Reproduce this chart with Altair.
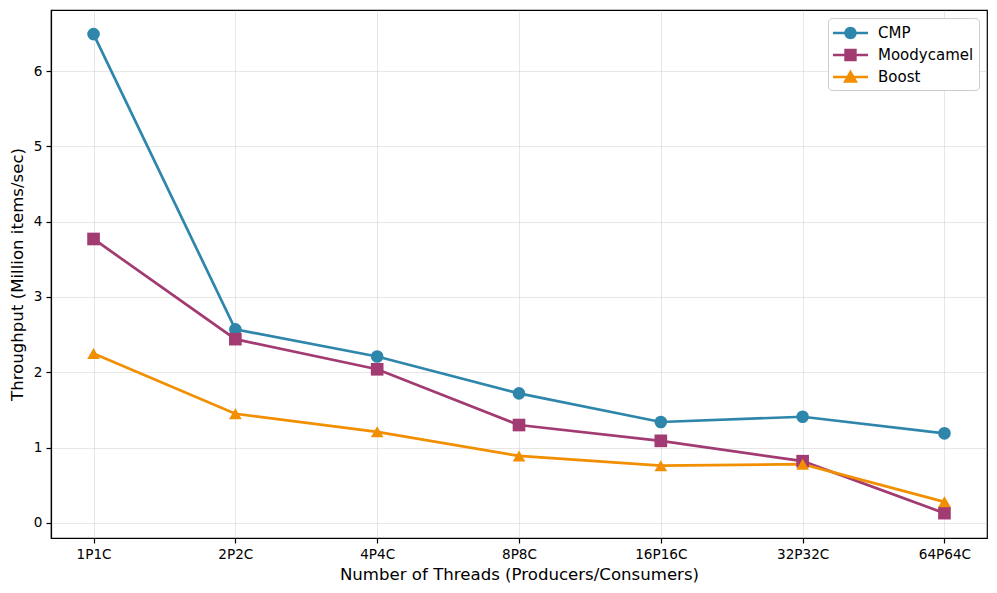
import altair as alt
import pandas as pd

threads = ["1P1C", "2P2C", "4P4C", "8P8C", "16P16C", "32P32C", "64P64C"]
cmp_vals = [6.49, 2.57, 2.21, 1.72, 1.34, 1.41, 1.19]
moody_vals = [3.77, 2.44, 2.04, 1.30, 1.09, 0.82, 0.13]
boost_vals = [2.25, 1.45, 1.21, 0.89, 0.76, 0.78, 0.28]
series_names = ["CMP", "Moodycamel", "Boost"]
colors = ["#2E86AB", "#A23B72", "#F18F01"]
shapes = ["circle", "square", "triangle-up"]

rows = []
for name, vals in zip(series_names, [cmp_vals, moody_vals, boost_vals]):
    for t, v in zip(threads, vals):
        rows.append({"threads": t, "series": name, "value": v})
df = pd.DataFrame(rows)

FONT = "DejaVu Sans"

line_part = "M-1,-0.13H2.5V0.13H-1Z"
circle_p = line_part + "M1.37,0A0.62,0.62,0,1,1,0.13,0A0.62,0.62,0,1,1,1.37,0Z"
square_p = line_part + "M0.13,-0.62H1.37V0.62H0.13Z"
tri_p = line_part + "M0.75,-0.74L1.5,0.57H0H0Z"
legend_shapes = [circle_p, square_p, tri_p]

x_enc = alt.X(
    "threads:N",
    sort=threads,
    scale=alt.Scale(type="point", padding=0.3),
    axis=alt.Axis(
        title="Number of Threads (Producers/Consumers)",
        labelAngle=0,
        grid=True,
    ),
)
y_enc = alt.Y(
    "value:Q",
    scale=alt.Scale(domain=[-0.2, 6.81], nice=False, zero=False),
    axis=alt.Axis(
        title="Throughput (Million items/sec)",
        values=[0, 1, 2, 3, 4, 5, 6],
        grid=True,
        format="d",
    ),
)

color_scale = alt.Scale(domain=series_names, range=colors)

lines = alt.Chart(df).mark_line(strokeWidth=2.7).encode(
    x=x_enc,
    y=y_enc,
    color=alt.Color("series:N", scale=color_scale, legend=None),
    detail="series:N",
)
points = alt.Chart(df).mark_point(filled=True, opacity=1, size=160).encode(
    x=x_enc,
    y=y_enc,
    color=alt.Color("series:N", scale=color_scale, legend=None),
    shape=alt.Shape(
        "series:N",
        scale=alt.Scale(domain=series_names, range=shapes),
        legend=None,
    ),
)

legend = alt.Legend(
    title=None,
    orient="top-right",
    offset=8,
    symbolSize=400,
    symbolOpacity=1,
    symbolStrokeWidth=0,
    labelOffset=25,
    rowPadding=4,
    padding=5,
    fillColor="white",
    strokeColor="#cccccc",
    cornerRadius=4,
    labelFont=FONT,
    labelFontSize=15,
    labelColor="black",
)

legend_layer = alt.Chart(df).mark_point(filled=True, opacity=0, size=1).encode(
    x=x_enc,
    y=y_enc,
    color=alt.Color("series:N", scale=color_scale, sort=series_names, legend=legend),
    shape=alt.Shape(
        "series:N",
        sort=series_names,
        scale=alt.Scale(domain=series_names, range=legend_shapes),
        legend=legend,
    ),
)

chart = (
    alt.layer(lines, points, legend_layer)
    .resolve_scale(color="independent", shape="independent")
    .properties(
        width=936,
        height=528,
        autosize=alt.AutoSizeParams(type="none"),
        padding={"left": 43, "top": 2, "right": 2, "bottom": 47},
        background="white",
    )
    .configure_view(stroke="black", strokeWidth=1.2)
    .configure_axis(
        labelFont=FONT,
        labelFontSize=13.6,
        labelColor="black",
        titleFont=FONT,
        titleFontSize=16.6,
        titleFontWeight="normal",
        titleColor="black",
        domainColor="black",
        domainWidth=1.2,
        tickColor="black",
        tickSize=5,
        tickWidth=1.2,
        gridColor="#b0b0b0",
        gridOpacity=0.3,
        gridWidth=1,
    )
    .configure_axisX(labelPadding=4, titlePadding=6)
    .configure_axisY(labelPadding=4, titlePadding=8)
)

chart.save("out.html", embed_options={"renderer": "svg", "actions": False})
